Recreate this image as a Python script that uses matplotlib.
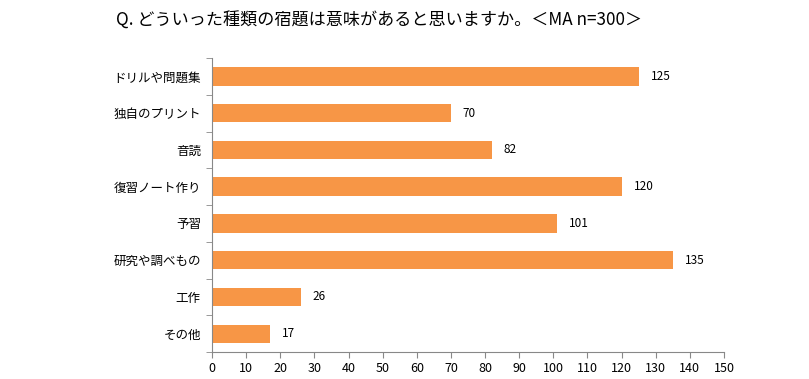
import matplotlib
matplotlib.use('Agg')
import matplotlib.pyplot as plt
import numpy as np

plt.rcParams['font.family'] = ['Noto Sans CJK JP', 'DejaVu Sans']

categories = ['ドリルや問題集', '独自のプリント', '音読', '復習ノート作り', '予習', '研究や調べもの', '工作', 'その他']
values = [125, 70, 82, 120, 101, 135, 26, 17]
xticks = list(range(0, 151, 10))

fig = plt.figure(figsize=(8.09, 3.79), dpi=100)
ax = fig.add_axes([0.262, 0.071, 0.633, 0.776])

y = np.arange(len(categories))
ax.barh(y, values, height=0.5, color='#F79646')
for yi, v in zip(y, values):
    ax.text(v + 3.5, yi, str(v), va='center', ha='left', fontsize=8.5)

ax.set_xlim(0, 150)
ax.set_ylim(len(categories) - 0.5, -0.5)
ax.set_xticks(xticks)
ax.set_xticklabels([str(t) for t in xticks], fontsize=9)
ax.set_yticks(y)
ax.set_yticklabels(categories, fontsize=9)
ax.tick_params(axis='y', length=0, pad=8)
ax.set_yticks(np.arange(-0.5, len(categories)), minor=True)
ax.tick_params(axis='y', which='minor', length=4, color='#888888')
ax.tick_params(axis='x', length=4, color='#888888', pad=3)

for side in ['top', 'right']:
    ax.spines[side].set_visible(False)
for side in ['left', 'bottom']:
    ax.spines[side].set_color('#888888')

fig.text(0.469, 0.945, 'Q. どういった種類の宿題は意味があると思いますか。＜MA n=300＞',
         ha='center', va='center', fontsize=12.3)

fig.savefig('out.png', dpi=100)
